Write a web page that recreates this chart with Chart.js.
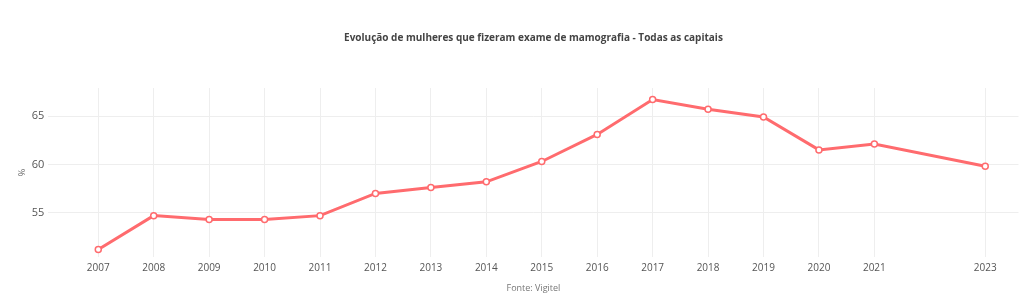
<!DOCTYPE html>
<html>
<head>
<meta charset="utf-8">
<script src="https://cdn.jsdelivr.net/npm/chart.js@4"></script>
<style>
    html, body { margin: 0; padding: 0; background: #fff; }
    #chartBox { width: 1024px; height: 302px; position: relative; }
</style>
</head>
<body>
<div id="chartBox"><canvas id="myChart"></canvas></div>
<script>
const years = [2007, 2008, 2009, 2010, 2011, 2012, 2013, 2014, 2015, 2016, 2017, 2018, 2019, 2020, 2021, 2023];
const percents = [51.2, 54.7, 54.3, 54.3, 54.7, 57.0, 57.6, 58.2, 60.3, 63.1, 66.7, 65.7, 64.9, 61.5, 62.1, 59.8];
const yTicks = [55, 60, 65];

const fontFamily = "'Open Sans', sans-serif";

let points = [];
for (let n = 0; n < years.length; n++) {
    points.push({ x: years[n], y: percents[n] });
}

const data = {
    datasets: [{
        label: '%',
        data: points,
        borderColor: '#ff6b6e',
        backgroundColor: '#ffffff',
        borderWidth: 3,
        pointRadius: 3,
        pointBorderWidth: 1.5,
        pointBorderColor: '#ff6b6e',
        pointBackgroundColor: '#ffffff',
        tension: 0
    }]
};

const config = {
    type: 'line',
    data: data,
    options: {
        responsive: true,
        maintainAspectRatio: false,
        animation: false,
        layout: {
            padding: { left: 17, right: 0, top: 0, bottom: 4 }
        },
        plugins: {
            legend: { display: false },
            tooltip: { enabled: false },
            title: {
                display: true,
                text: 'Evolução de mulheres que fizeram exame de mamografia - Todas as capitais',
                fullSize: false,
                color: '#444',
                font: { family: fontFamily, size: 10, weight: 'bold' },
                padding: { top: 32, bottom: 44 }
            },
            subtitle: {
                display: true,
                position: 'bottom',
                text: 'Fonte: Vigitel',
                fullSize: false,
                color: '#777',
                font: { family: fontFamily, size: 9 },
                padding: { top: 4, bottom: 4 }
            }
        },
        scales: {
            x: {
                type: 'linear',
                min: 2006.1,
                max: 2023.6,
                afterBuildTicks: (axis) => {
                    axis.ticks = years.map((v) => ({ value: v }));
                },
                grid: { color: '#eeeeee', drawTicks: false },
                border: { display: false },
                ticks: {
                    color: '#555',
                    font: { family: fontFamily, size: 10 },
                    padding: 5,
                    maxRotation: 0,
                    autoSkip: false,
                    callback: (v) => String(v)
                }
            },
            y: {
                min: 50.4,
                max: 67.9,
                afterBuildTicks: (axis) => {
                    axis.ticks = yTicks.map((v) => ({ value: v }));
                },
                grid: { color: '#eeeeee', drawTicks: false },
                border: { display: false },
                title: {
                    display: true,
                    text: '%',
                    color: '#666',
                    font: { family: fontFamily, size: 9 },
                    padding: { top: 0, bottom: 0 }
                },
                ticks: {
                    color: '#555',
                    font: { family: fontFamily, size: 11 },
                    padding: 4
                }
            }
        }
    }
};

const myChart = new Chart(document.getElementById('myChart'), config);
</script>
</body>
</html>
